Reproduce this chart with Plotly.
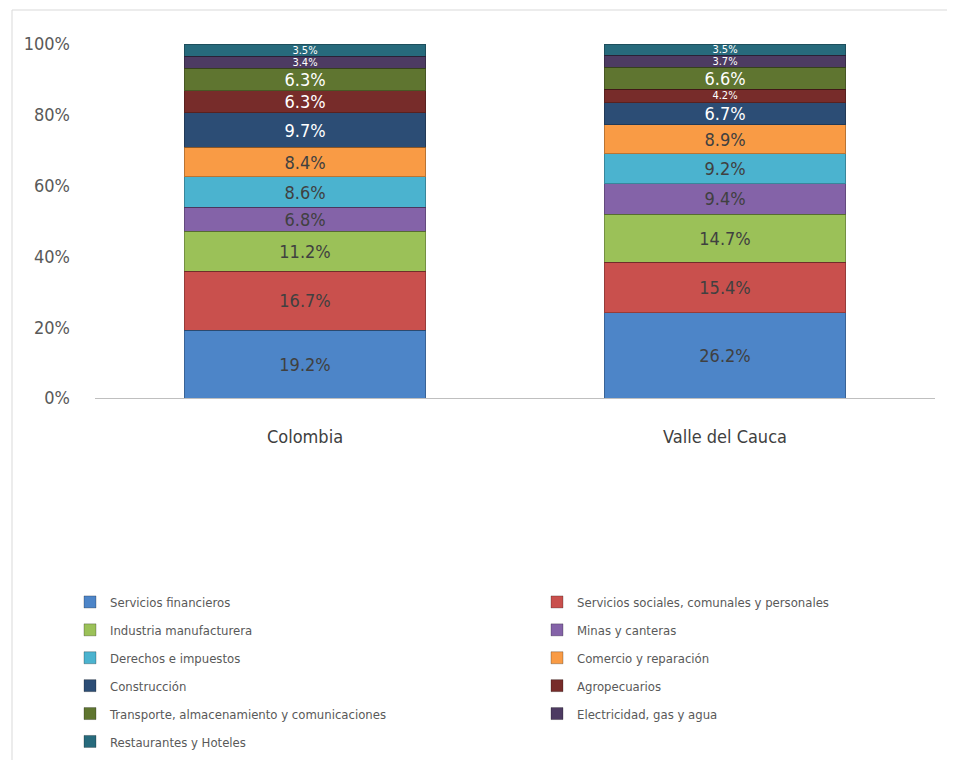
import plotly.graph_objects as go

categories = ["Colombia", "Valle del Cauca"]
sectors = [
    "Servicios financieros",
    "Servicios sociales, comunales y personales",
    "Industria manufacturera",
    "Minas y canteras",
    "Derechos e impuestos",
    "Comercio y reparación",
    "Construcción",
    "Agropecuarios",
    "Transporte, almacenamiento y comunicaciones",
    "Electricidad, gas y agua",
    "Restaurantes y Hoteles",
]
colombia = [19.2, 16.7, 11.2, 6.8, 8.6, 8.4, 9.7, 6.3, 6.3, 3.4, 3.5]
valle = [26.2, 15.4, 14.7, 9.4, 9.2, 8.9, 6.7, 4.2, 6.6, 3.7, 3.5]
y_ticks = [0, 20, 40, 60, 80, 100]
y_tick_labels = ["0%", "20%", "40%", "60%", "80%", "100%"]

colors = ["#4D85C8", "#C9504D", "#9BC158", "#8463A8", "#4BB3CF", "#F99B45",
          "#2C4D75", "#772C2A", "#5F7530", "#4D3B62", "#276A7C"]
text_colors = ["#404040"] * 6 + ["#FFFFFF"] * 5
left_col = [0, 2, 4, 6, 8, 10]

FONT = "DejaVu Sans Condensed, Liberation Sans Narrow, sans-serif"

fig = go.Figure()
for i, name in enumerate(sectors):
    vals = [colombia[i], valle[i]]
    sizes = [18 if v >= 6 else 11 for v in vals]
    fig.add_trace(go.Bar(
        x=categories, y=vals, name=name,
        marker=dict(color=colors[i], line=dict(color="rgba(0,0,0,0.25)", width=1)),
        text=[f"{v:.1f}%" for v in vals],
        textposition="inside", insidetextanchor="middle", textangle=0,
        constraintext="none",
        textfont=dict(color=text_colors[i], size=sizes, family=FONT),
        legend="legend" if i in left_col else "legend2",
        legendgroup=name,
        hoverinfo="skip",
    ))

W, H = 955, 760
OFF = 8  # page body margin offset
# target plot area in screen pixels
SX0, SX1, SY0, SY1 = 95, 935, 44, 398
L = SX0 - OFF
R = W - (SX1 - OFF)
T = SY0 - OFF
B = H - (SY1 - OFF)
pw, ph = W - L - R, H - T - B

def px_x(p):
    return (p - OFF - L) / pw

def px_y(p):
    return (H - B - (p - OFF)) / ph

legend_font = dict(size=13, color="#595959", family=FONT)
fig.update_layout(
    width=W, height=H,
    barmode="stack", barnorm="percent", bargap=0.424,
    margin=dict(l=L, r=R, t=T, b=B, autoexpand=False),
    paper_bgcolor="white", plot_bgcolor="white",
    font=dict(family=FONT, color="#595959"),
    showlegend=True,
    legend=dict(x=px_x(70), y=px_y(587), xanchor="left", yanchor="top",
                orientation="v", tracegroupgap=8, traceorder="grouped",
                font=legend_font, bgcolor="rgba(0,0,0,0)", itemclick=False),
    legend2=dict(x=px_x(537), y=px_y(587), xanchor="left", yanchor="top",
                 orientation="v", tracegroupgap=8, traceorder="grouped",
                 font=legend_font, bgcolor="rgba(0,0,0,0)", itemclick=False),
    xaxis=dict(showgrid=False, showline=True, linecolor="#BFBFBF", linewidth=1,
               ticks="", tickfont=dict(size=18, color="#404040"),
               ticklabelstandoff=22),
    yaxis=dict(range=[0, 100], tickvals=y_ticks, ticktext=y_tick_labels,
               showgrid=False, showline=False, zeroline=False, ticks="",
               tickfont=dict(size=18, color="#595959"), ticklabelstandoff=24),
    shapes=[dict(type="rect", xref="paper", yref="paper",
                 x0=px_x(12), x1=px_x(960), y0=px_y(770), y1=px_y(10),
                 line=dict(color="#D9D9D9", width=1), fillcolor="rgba(0,0,0,0)",
                 layer="below")],
)

fig.write_html("out.html")
